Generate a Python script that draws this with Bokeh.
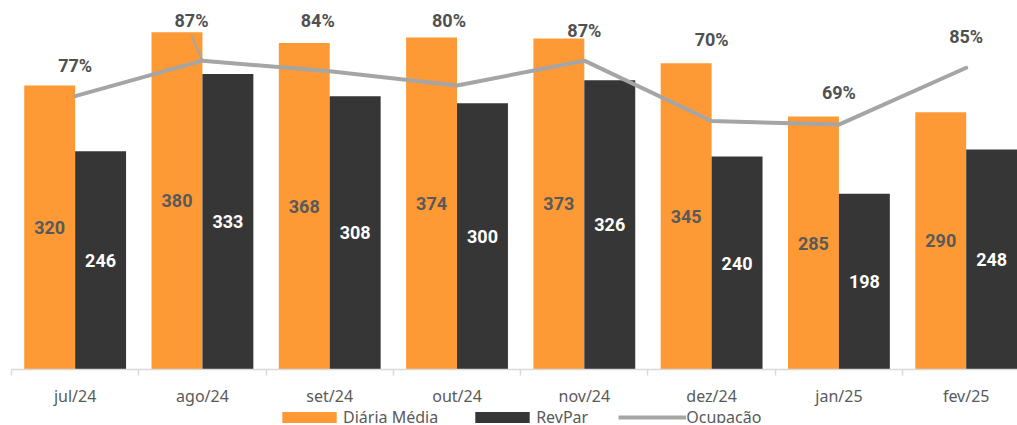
from bokeh.plotting import figure
from bokeh.models import Range1d, FixedTicker, Legend, LegendItem, ColumnDataSource
from bokeh.layouts import column
from bokeh.core.properties import value
from bokeh.embed import file_html
from bokeh.resources import INLINE
import numpy as np

months = ["jul/24", "ago/24", "set/24", "out/24", "nov/24", "dez/24", "jan/25", "fev/25"]
diaria = [320, 380, 368, 374, 373, 345, 285, 290]
revpar = [246, 333, 308, 300, 326, 240, 198, 248]
ocup = [77, 87, 84, 80, 87, 70, 69, 85]
ocup_labels = ["77%", "87%", "84%", "80%", "87%", "70%", "69%", "85%"]
# label placement (as in the reference, labels were moved by hand)
ocup_label_y = [85.6, 98.3, 98.3, 98.3, 95.6, 92.9, 77.9, 93.8]
ocup_label_dx = [0.0, -0.086, -0.094, -0.063, 0.0, 0.0, 0.0, 0.0]
leader_idx = [1]

ORANGE = "#FD9A36"
DARK = "#363636"
GRAY = "#A5A5A5"
TXT = "#595959"

n = len(months)
idx = np.arange(n)
centers = idx + 0.5

p = figure(frame_width=1006, frame_height=361, output_backend="svg", toolbar_location=None,
           x_range=Range1d(0, 7.903), y_range=Range1d(0, 406.8),
           y_axis_location=None, min_border_left=11, min_border_right=0,
           min_border_top=8, min_border_bottom=0)
p.extra_y_ranges = {"pct": Range1d(0, 101.7)}
p.outline_line_color = None
p.grid.visible = False

src = ColumnDataSource(dict(
    xo=centers - 0.2, xr=centers + 0.2, d=diaria, r=revpar,
    dy=[v / 2 for v in diaria], ry=[v / 2 for v in revpar],
    dt=[str(v) for v in diaria], rt=[str(v) for v in revpar],
    xc=centers, o=ocup, ot=ocup_labels,
    ox=centers + np.array(ocup_label_dx), oy=ocup_label_y,
))

p.vbar(x="xo", top="d", width=0.4, source=src, fill_color=ORANGE, line_color=None)
p.vbar(x="xr", top="r", width=0.4, source=src, fill_color=DARK, line_color=None)
p.line(x="xc", y="o", source=src, y_range_name="pct", line_color=GRAY,
       line_width=4, line_cap="round", line_join="round")

# leader lines
for i in leader_idx:
    p.segment(x0=[centers[i] + ocup_label_dx[i]], y0=[ocup_label_y[i] - 4.2],
              x1=[centers[i]], y1=[ocup[i]], y_range_name="pct",
              line_color=GRAY, line_width=2)

p.text(x="xo", y="dy", text="dt", source=src, text_align="center", text_baseline="middle",
       text_font=value("Roboto"), text_font_style="bold", text_font_size="18px", text_color=TXT)
p.text(x="xr", y="ry", text="rt", source=src, text_align="center", text_baseline="middle",
       text_font=value("Roboto"), text_font_style="bold", text_font_size="18px", text_color="white")
p.text(x="ox", y="oy", text="ot", source=src, y_range_name="pct", text_align="center",
       text_baseline="middle", text_font=value("Roboto"), text_font_style="bold",
       text_font_size="18px", text_color="#505050")

ax = p.xaxis[0]
ax.ticker = FixedTicker(ticks=list(centers), minor_ticks=list(range(n + 1)))
ax.major_label_overrides = {float(c): m for c, m in zip(centers, months)}
ax.major_tick_line_color = None
ax.major_tick_out = 0
ax.major_tick_in = 0
ax.minor_tick_in = 0
ax.minor_tick_out = 6
ax.minor_tick_line_color = "#D9D9D9"
ax.minor_tick_line_width = 1.5
ax.axis_line_color = "#D9D9D9"
ax.axis_line_width = 1.5
ax.major_label_standoff = 9
ax.major_label_text_font = "Noto Sans"
ax.major_label_text_font_size = "16px"
ax.major_label_text_color = TXT

# legend strip below the chart (same frame alignment as the chart)
q = figure(width=1017, height=14, output_backend="svg", toolbar_location=None,
           x_range=Range1d(0, 1), y_range=Range1d(0, 1),
           x_axis_location=None, y_axis_location=None,
           min_border_left=11, min_border_right=0, min_border_top=0, min_border_bottom=0)
q.outline_line_color = None
q.grid.visible = False
# degenerate (invisible) renderers that only provide the legend styles
lb1 = q.vbar(x=[0.5], top=[0.5], bottom=[0.5], width=0.0, fill_color=ORANGE, line_color=None)
lb2 = q.vbar(x=[0.5], top=[0.5], bottom=[0.5], width=0.0, fill_color=DARK, line_color=None)
ll = q.line(x=[0.5], y=[0.5], line_color=GRAY, line_width=4)

legend = Legend(items=[LegendItem(label="Diária Média", renderers=[lb1]),
                       LegendItem(label="RevPar", renderers=[lb2]),
                       LegendItem(label="Ocupação", renderers=[ll])],
                orientation="horizontal", location=(264, -5),
                border_line_color=None, background_fill_alpha=0,
                padding=0, margin=0, spacing=30, label_standoff=0,
                glyph_width=68, glyph_height=14, label_height=14,
                label_text_font="Noto Sans", label_text_font_size="16px",
                label_text_color=TXT)
q.add_layout(legend, "center")

layout = column(p, q, spacing=0)
open("out.html", "w").write(file_html(layout, INLINE))
